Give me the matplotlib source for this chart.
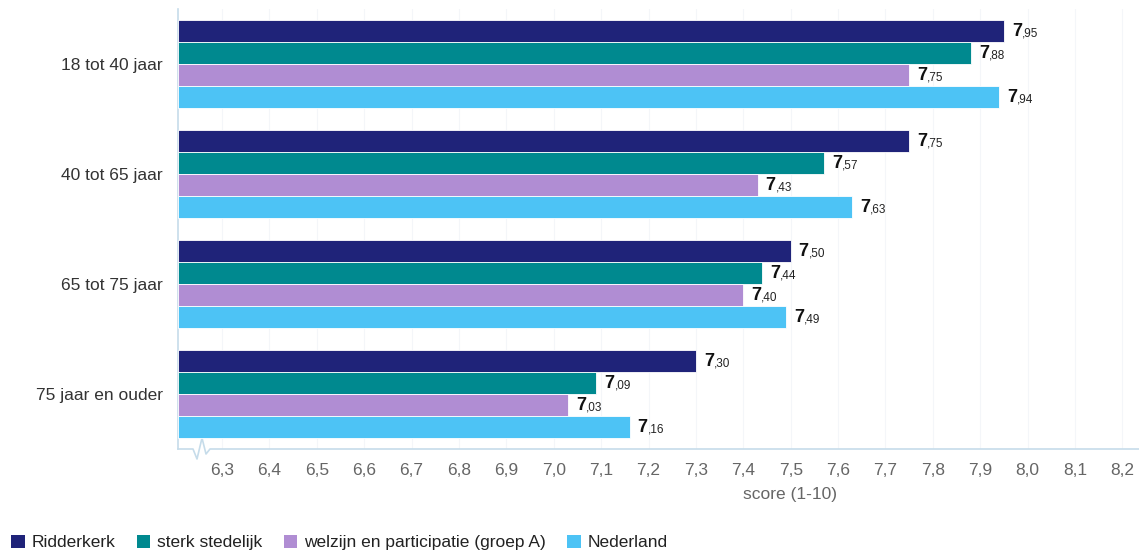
import numpy as np
import matplotlib.pyplot as plt
from matplotlib.patches import Patch

plt.rcParams['font.family'] = ['Liberation Sans', 'DejaVu Sans']

categories = ['18 tot 40 jaar', '40 tot 65 jaar', '65 tot 75 jaar', '75 jaar en ouder']
series = ['Ridderkerk', 'sterk stedelijk', 'welzijn en participatie (groep A)', 'Nederland']
ridderkerk = [7.95, 7.75, 7.50, 7.30]
sterk_stedelijk = [7.88, 7.57, 7.44, 7.09]
welzijn = [7.75, 7.43, 7.40, 7.03]
nederland = [7.94, 7.63, 7.49, 7.16]
ticks = [6.3, 6.4, 6.5, 6.6, 6.7, 6.8, 6.9, 7.0, 7.1, 7.2, 7.3, 7.4, 7.5, 7.6, 7.7, 7.8, 7.9, 8.0, 8.1, 8.2]

colors = ['#1f2379', '#00898f', '#b08dd3', '#4dc3f5']
values = [ridderkerk, sterk_stedelijk, welzijn, nederland]

W, H = 1139, 551
fig = plt.figure(figsize=(W / 100, H / 100), dpi=100)
ax = fig.add_axes([178 / W, 1 - 449 / H, (1139 - 178) / W, (449 - 9) / H])

xmin = 6.207
ax.set_xlim(xmin, 8.235)
ax.set_ylim(3.5, -0.5)

y = np.arange(len(categories))
bh = 0.2
offsets = [-0.3, -0.1, 0.1, 0.3]
for vals, col, off, name in zip(values, colors, offsets, series):
    ax.barh(y + off, [v - xmin for v in vals], left=xmin, height=bh, color=col,
            edgecolor='white', linewidth=0.6, label=name, zorder=3)
    for yi, v in zip(y, vals):
        whole, frac = f'{v:.2f}'.split('.')
        ax.annotate(whole, (v, yi + off), xytext=(8, -5), textcoords='offset pixels',
                    fontsize=13, fontweight='bold', color='#111111', va='baseline', ha='left')
        ax.annotate(',' + frac, (v, yi + off), xytext=(18, -5), textcoords='offset pixels',
                    fontsize=8.5, color='#222222', va='baseline', ha='left')

ax.set_yticks(y)
ax.set_yticklabels(categories, fontsize=12.5, color='#333333')
ax.set_xticks(ticks)
ax.set_xticklabels([f'{t:.1f}'.replace('.', ',') for t in ticks], fontsize=12.5, color='#666666')
ax.tick_params(axis='both', length=0)
ax.tick_params(axis='x', pad=10)
ax.tick_params(axis='y', pad=11)
ax.grid(axis='x', color='#f4f6f9', linewidth=0.8, zorder=0)

for s in ['top', 'right', 'bottom', 'left']:
    ax.spines[s].set_visible(False)

# axis lines with the break marker near the start of the x axis
axis_col = '#c6dcea'
ax.plot([0, 0], [1, 0], transform=ax.transAxes, color=axis_col, lw=1.2, clip_on=False)
px = lambda x: (x - 178) / (1139 - 178)
py = lambda yy: (449 - yy) / (449 - 9)
zx = [178, 193, 197, 202, 206, 210, 1139]
zy = [449, 449, 459, 438, 454, 449, 449]
ax.plot([px(v) for v in zx], [py(v) for v in zy], transform=ax.transAxes,
        color=axis_col, lw=1.2, clip_on=False)

fig.text(790 / W, 1 - 494 / H, 'score (1-10)', fontsize=12.5, color='#666666', ha='center', va='center')

handles = [Patch(facecolor=c, edgecolor='none') for c in colors]
fig.legend(handles, series, loc='lower left', bbox_to_anchor=(-0.004, -0.027), ncol=4, frameon=False,
           fontsize=12.5, handlelength=0.8, handleheight=0.8, handletextpad=0.4,
           columnspacing=1.2, labelcolor='#222222')

plt.savefig('out.png', dpi=100)
